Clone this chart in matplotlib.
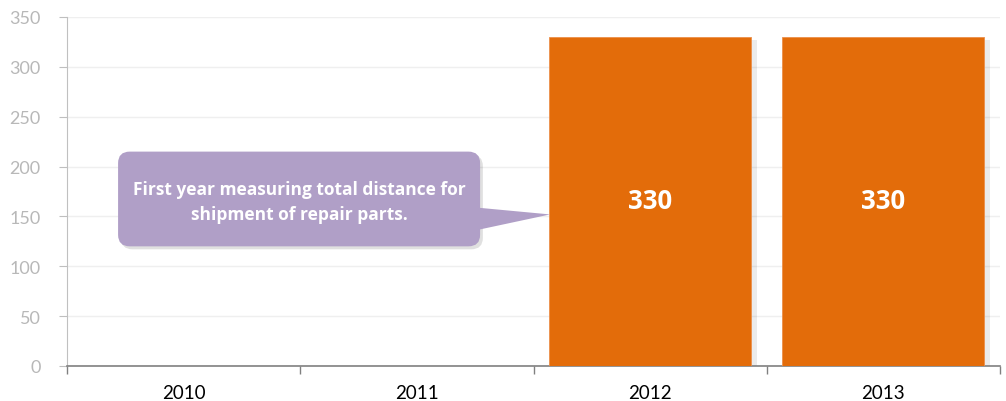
import matplotlib
matplotlib.use("Agg")
import matplotlib.pyplot as plt
from matplotlib.patches import FancyBboxPatch, Polygon
import numpy as np

years = ["2010", "2011", "2012", "2013"]
values = [0, 0, 330, 330]
bar_labels = ["", "", "330", "330"]
yticks = [0, 50, 100, 150, 200, 250, 300, 350]
callout_text = "First year measuring total distance for\nshipment of repair parts."

plt.rcParams['font.family'] = ['Lato', 'DejaVu Sans']

fig = plt.figure(figsize=(10.06, 4.02), dpi=100)
ax = fig.add_axes([67/1006, 35/402, 933/1006, 349/402])

x = np.arange(len(years))
bw = 0.866
orange = "#E36C0A"
# shadow
ax.bar(x + 0.025, values, width=bw, color="#000000", alpha=0.08, zorder=2,
       bottom=-3)
bars = ax.bar(x, values, width=bw, color=orange, zorder=3, edgecolor="#ec8f4a", linewidth=0.6)
for xi, v, lab in zip(x, values, bar_labels):
    if lab:
        ax.text(xi, 166, lab, ha="center", va="center", color="white",
                fontsize=18.5, fontweight="bold", family=["Open Sans", "DejaVu Sans"], zorder=5)

ax.set_xlim(-0.5, 3.5)
ax.set_ylim(0, 350)
ax.set_yticks(yticks)
ax.set_yticklabels([str(t) for t in yticks])
ax.set_xticks(x)
ax.set_xticklabels(years)
ax.set_xticks(np.arange(-0.5, 4.0, 1.0), minor=True)
ax.tick_params(axis="x", which="major", length=0, pad=13, labelsize=13.5, labelcolor="black")
ax.tick_params(axis="x", which="minor", length=6, color="#808080", width=1)
ax.tick_params(axis="y", length=6, color="#bfbfbf", labelsize=13, labelcolor="#b8b8b8", pad=13)
ax.grid(axis="y", color="#efefef", linewidth=1, zorder=0)
for s in ["top", "right"]:
    ax.spines[s].set_visible(False)
ax.spines["left"].set_color("#c0c0c0")
ax.spines["bottom"].set_color("#808080")
ax.spines["bottom"].set_linewidth(1.2)

# callout
purple = "#B09FC7"
bx0, bx1 = -0.281, 1.271
by0, by1 = 120, 215
tip = (1.571, 152)
sh = FancyBboxPatch((bx0 + 0.012, by0 - 3), bx1 - bx0, by1 - by0,
                    boxstyle="round,pad=0,rounding_size=0.05", mutation_aspect=230,
                    facecolor="#000000", alpha=0.12, edgecolor="none", zorder=3)
ax.add_patch(sh)
box = FancyBboxPatch((bx0, by0), bx1 - bx0, by1 - by0,
                     boxstyle="round,pad=0,rounding_size=0.05", mutation_aspect=230,
                     facecolor=purple, edgecolor="none", zorder=4)
ax.add_patch(box)
ptr = Polygon([(bx1 - 0.02, 159), tip, (bx1 - 0.02, 136)], closed=True,
              facecolor=purple, edgecolor="none", zorder=4)
ax.add_patch(ptr)
ax.text((bx0 + bx1) / 2, 165, callout_text, ha="center", va="center",
        color="white", fontsize=12.5, fontweight="bold", linespacing=1.45,
        family=["Open Sans", "DejaVu Sans"], zorder=5)

fig.savefig("out.png", dpi=100)
